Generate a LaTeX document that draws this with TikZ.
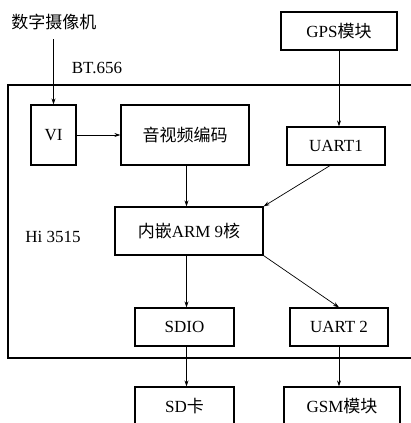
\documentclass[tikz,border=0pt]{standalone}
\usepackage{fontspec}
\setmainfont{Liberation Serif}
\newfontfamily\cjk{Noto Sans CJK SC}
\usetikzlibrary{positioning, arrows.meta}

\begin{document}
\begin{tikzpicture}[
    x=1pt, y=-1pt,
    >={Stealth[length=6pt, width=4pt]},
    font=\fontsize{17}{19}\selectfont,
    blk/.style={draw, line width=1.2pt, inner sep=0pt, align=center},
    arr/.style={->, line width=0.7pt},
    lbl/.style={inner sep=1pt},
]

% ===== Page frame =====
\useasboundingbox (0,0) rectangle (411,423);
\clip (0,0) rectangle (411,423);

% ===== Hi3515 chip border =====
\draw[line width=1.5pt] (8,85) rectangle (425,358);
\node[lbl] (chip) at (53,237) {Hi 3515};

% ===== Inputs =====
\node[lbl] (cam) at (54,22) {\cjk 数字摄像机};
\node[lbl] (bt) at (97,68) {BT.656};
\node[blk, minimum width=116, minimum height=38] (gps) at (339,31) {GPS{\cjk 模块}};

% ===== Modules inside chip =====
\node[blk, minimum width=45, minimum height=60] (vi) at (53.5,135) {VI};
\node[blk, minimum width=128, minimum height=60] (enc) at (185,135) {\cjk 音视频编码};
\node[blk, minimum width=98, minimum height=38] (uart1) at (336,146) {UART1};
\node[blk, minimum width=148, minimum height=48] (arm) at (189,231) {{\cjk 内嵌}ARM 9{\cjk 核}};
\node[blk, minimum width=99, minimum height=38] (sdio) at (184.5,327) {SDIO};
\node[blk, minimum width=98, minimum height=38] (uart2) at (339,327) {UART 2};

% ===== Outputs =====
\node[blk, minimum width=99, minimum height=38] (sd) at (184.5,406) {SD{\cjk 卡}};
\node[blk, minimum width=116, minimum height=38] (gsm) at (342,406) {GSM{\cjk 模块}};

% ===== Arrows =====
\draw[arr, shorten <=8pt] (cam.south -| vi.north) -- (vi);
\draw[arr] (vi) -- (enc);
\draw[arr] (gps) -- (gps |- uart1.north);
\draw[arr] (enc.south -| 186.5,0) -- (arm.north -| 186.5,0);
\draw[arr] ([xshift=-6pt]uart1.south) -- (arm.north east);
\draw[arr] (arm.south -| 186.5,0) -- (sdio.north -| 186.5,0);
\draw[arr] (arm.south east) -- (uart2.north);
\draw[arr] (sdio.south -| 186.5,0) -- (sd.north -| 186.5,0);
\draw[arr] (uart2) -- (uart2 |- gsm.north);

\end{tikzpicture}
\end{document}
